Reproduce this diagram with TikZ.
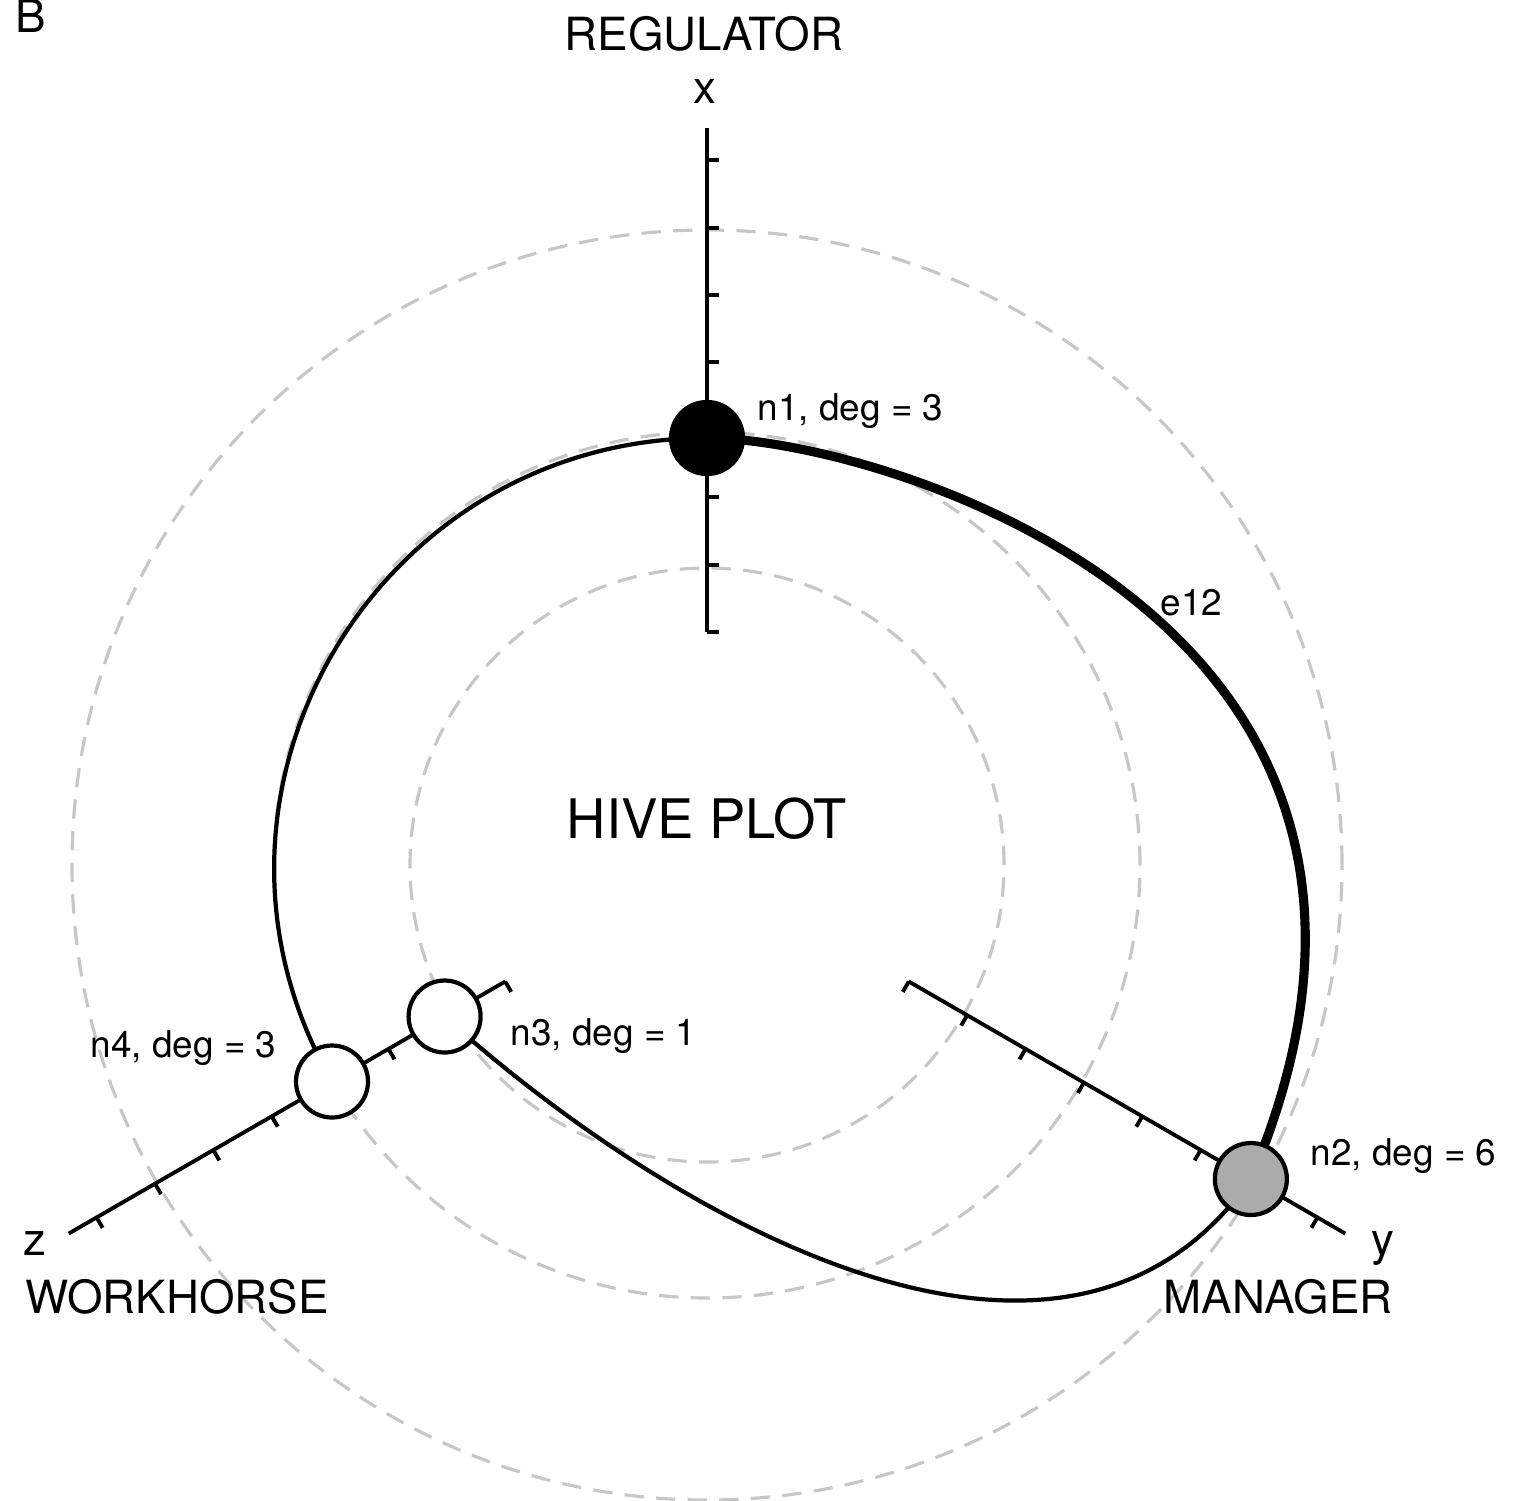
\documentclass[tikz,border=0pt]{standalone}
\usepackage{fontspec}
\setmainfont{TeX Gyre Heros}
\usetikzlibrary{backgrounds}

\tikzset{
  hub/.style={circle, draw, line width=1.2pt, minimum size=7.2mm, inner sep=0pt},
  ring/.style={draw=black!22, line width=0.9pt, dash pattern=on 5.5pt off 3.5pt},
  spoke/.style={line width=1.1pt},
  link/.style={line width=1.2pt},
  lbl/.style={inner sep=0pt, anchor=base west, font=\fontsize{10.5}{12}\selectfont},
  axlbl/.style={inner sep=0pt, anchor=base, font=\fontsize{13}{15}\selectfont},
}

\begin{document}
\begin{tikzpicture}
\useasboundingbox (-7.07,-6.35) rectangle (8.18,8.65);

% nodes sitting on the three axes
\node[hub, fill=black] (n1) at (90:4.27) {};
\node[hub, fill=black!33] (n2) at (-30:6.28) {};
\node[hub, fill=white] (n3) at (210:3.03) {};
\node[hub, fill=white] (n4) at (210:4.33) {};

\begin{scope}[on background layer]
% guide rings
\foreach \r in {2.97,4.33,6.35}
  \draw[ring] (0,0) circle (\r);
% axes with ticks
\foreach \a/\side in {90/-90, -30/-90, 210/90} {
  \draw[spoke] (\a:2.33) -- (\a:7.37);
  \foreach \k in {0,...,7}
    \draw[spoke] ({\a}:{2.33+0.674*\k}) -- ++({\a+\side}:0.12);
}
% edges
\draw[link] (n1.center) to[out=180, in=120, distance=3.31cm] (n4.center);
\draw[link, line width=2.6pt] (n1.center) to[out=0, in=67, out distance=1.7cm, in distance=6.1cm] (n2.center);
\draw[link] (n3.center) to[out=-42, in=235, out distance=2.92cm, in distance=3.3cm] (n2.center);
\end{scope}

% labels
\node[lbl] (l1) at (0.50,4.45) {n1, deg = 3};
\node[lbl] (l2) at (6.03,-3.00) {n2, deg = 6};
\node[lbl] (l3) at (-1.97,-1.80) {n3, deg = 1};
\node[lbl] (l4) at (-6.17,-1.92) {n4, deg = 3};
\node[lbl] (e12) at (4.53,2.50) {e12};

\node[axlbl] (ax) at (-0.02,7.62) {x};
\node[axlbl] (ay) at (6.76,-3.90) {y};
\node[axlbl] (az) at (-6.72,-3.90) {z};
\node[axlbl] (reg) at (-0.03,8.15) {REGULATOR};
\node[axlbl] (man) at (5.71,-4.48) {MANAGER};
\node[axlbl] (work) at (-5.30,-4.48) {WORKHORSE};
\node[axlbl, font=\fontsize{15.5}{18}\selectfont] (title) at (0,0.27) {HIVE PLOT};
\node[axlbl, anchor=base west] (tag) at (-6.92,8.32) {B};
\end{tikzpicture}
\end{document}
